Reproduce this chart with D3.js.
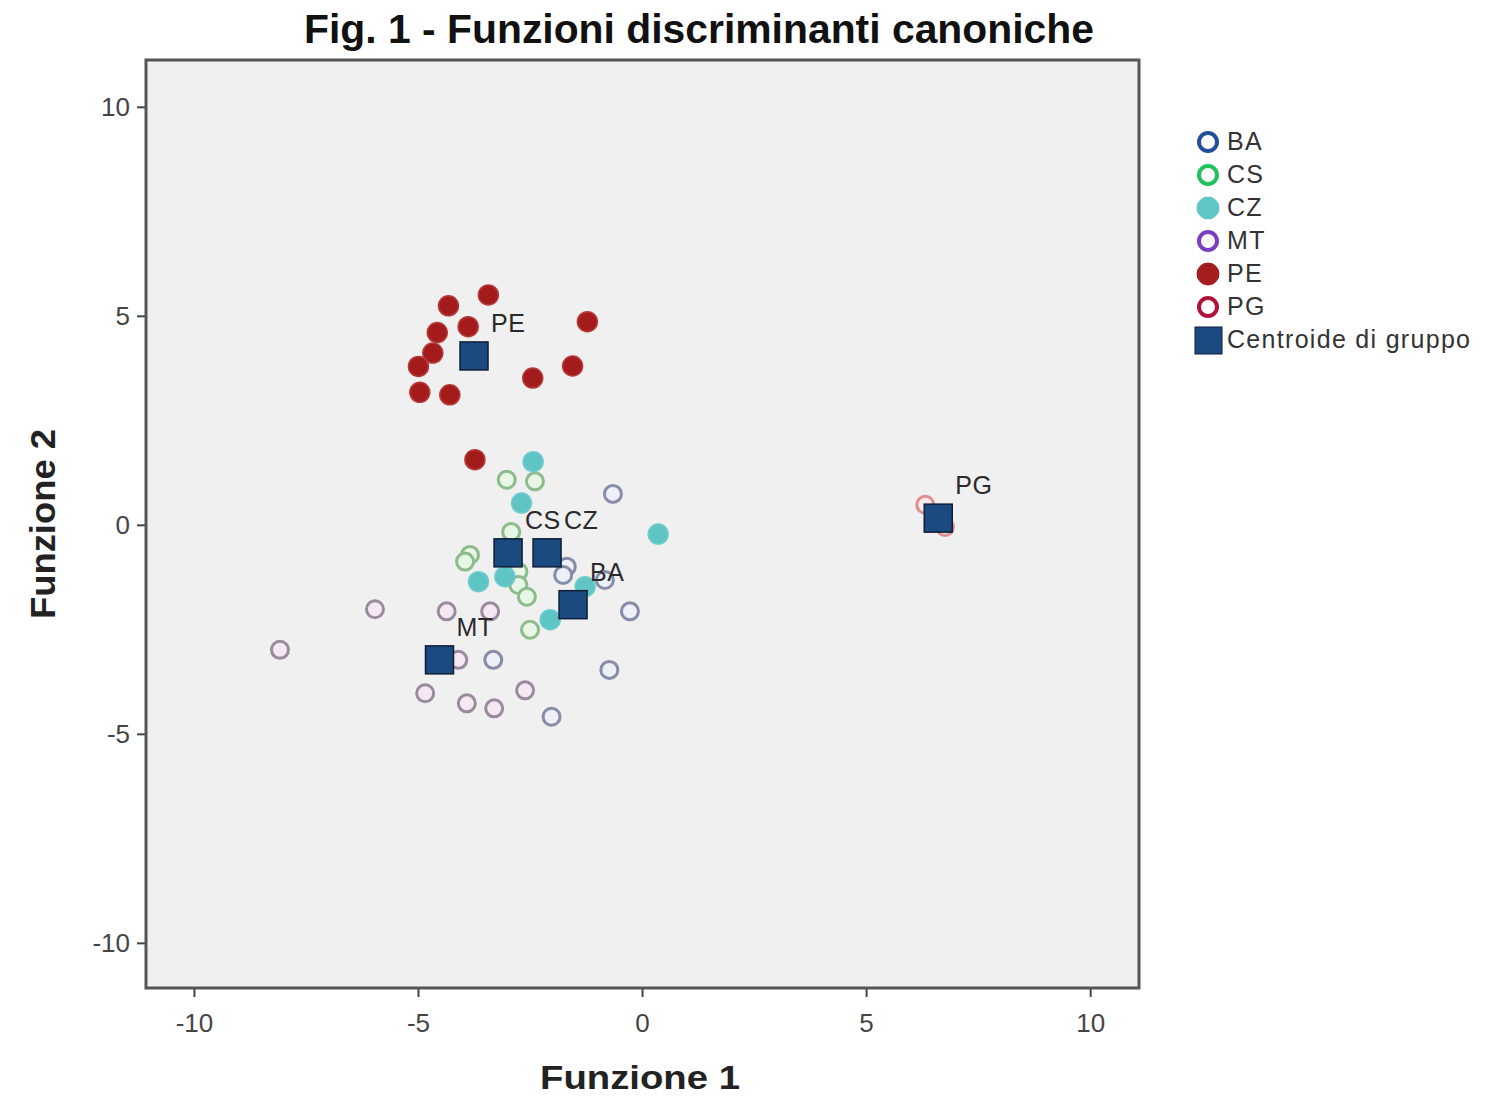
<!DOCTYPE html>
<html>
<head>
<meta charset="utf-8">
<script src="https://cdn.jsdelivr.net/npm/d3@7/dist/d3.min.js"></script>
<style>
  html, body { margin: 0; padding: 0; background: #fff; }
  svg { display: block; font-family: "Liberation Sans", Arial, sans-serif; }
</style>
</head>
<body>
<svg id="chart" width="1504" height="1099"></svg>
<script>
// Canonical discriminant scores (Funzione 1, Funzione 2) for each group
const groupNames = ["BA", "CS", "CZ", "MT", "PE", "PG"];

const baPoints = [
  [-0.65, 0.74], [-1.68, -1.00], [-1.76, -1.20], [-0.83, -1.32],
  [-0.27, -2.07], [-3.32, -3.23], [-0.73, -3.47], [-2.02, -4.59]
];
const csPoints = [
  [-3.02, 1.08], [-2.39, 1.04], [-2.92, -0.17], [-3.84, -0.72], [-3.95, -0.88],
  [-2.76, -1.12], [-2.76, -1.44], [-2.57, -1.72], [-2.50, -2.51]
];
const czPoints = [
  [-2.43, 1.51], [-2.69, 0.52], [0.36, -0.22], [-3.65, -1.36],
  [-3.06, -1.24], [-1.27, -1.48], [-2.05, -2.27]
];
const mtPoints = [
  [-5.96, -2.02], [-4.36, -2.07], [-3.39, -2.07], [-8.08, -2.99], [-4.10, -3.23],
  [-4.84, -4.03], [-2.61, -3.96], [-3.91, -4.27], [-3.30, -4.39]
];
const pePoints = [
  [-3.43, 5.50], [-4.32, 5.24], [-3.88, 4.74], [-1.22, 4.86], [-4.57, 4.60],
  [-4.67, 4.11], [-4.99, 3.79], [-1.55, 3.80], [-2.44, 3.51], [-4.96, 3.17],
  [-4.29, 3.11], [-3.73, 1.56]
];
const pgPoints = [[6.32, 0.48], [6.76, -0.05]];

// Group centroids
const centroidNames = ["PE", "CS", "CZ", "BA", "MT", "PG"];
const centroidX = [-3.75, -2.99, -2.12, -1.54, -4.52, 6.61];
const centroidY = [4.04, -0.67, -0.67, -1.91, -3.23, 0.16];

const xTicks = [-10, -5, 0, 5, 10];
const yTicks = [-10, -5, 0, 5, 10];
const legendLabels = ["BA", "CS", "CZ", "MT", "PE", "PG", "Centroide di gruppo"];

// Marker styles: plot marks are soft, legend swatches are saturated
const plotStyle = {
  BA: { filled: false, stroke: "#878ca8", fill: "#eef0f8" },
  CS: { filled: false, stroke: "#8cbb8c", fill: "#e8f6e6" },
  CZ: { filled: true,  stroke: "#6fcccc", fill: "#5ec4c4" },
  MT: { filled: false, stroke: "#9a8a9e", fill: "#f6e8f3" },
  PE: { filled: true,  stroke: "#b53a3a", fill: "#a31b1b" },
  PG: { filled: false, stroke: "#de8f8f", fill: "#f8eaea" }
};
const legendStyle = {
  BA: { filled: false, color: "#234e9a" },
  CS: { filled: false, color: "#1fc15e" },
  CZ: { filled: true,  color: "#5ec6c6" },
  MT: { filled: false, color: "#7a3fc0" },
  PE: { filled: true,  color: "#a51d1d" },
  PG: { filled: false, color: "#b0123a" }
};
const centroidFill = "#1b4a80";

const svg = d3.select("#chart");

const plot = { left: 146, right: 1139, top: 60, bottom: 988 };
const x = d3.scaleLinear().domain([-11.07, 11.09]).range([plot.left, plot.right]);
const y = d3.scaleLinear().domain([-11.08, 11.12]).range([plot.bottom, plot.top]);

// Title
svg.append("text")
  .attr("x", 699).attr("y", 43)
  .attr("text-anchor", "middle")
  .attr("font-size", 40).attr("font-weight", "bold")
  .attr("fill", "#111")
  .attr("textLength", 790).attr("lengthAdjust", "spacingAndGlyphs")
  .text("Fig. 1 - Funzioni discriminanti canoniche");

// Plot background
svg.append("rect")
  .attr("x", plot.left).attr("y", plot.top)
  .attr("width", plot.right - plot.left).attr("height", plot.bottom - plot.top)
  .attr("fill", "#f0f0f0");

// Axes (plain hyphen for negative labels)
const fmt = d => String(d);
const xAxis = d3.axisBottom(x).tickValues(xTicks).tickSize(9).tickPadding(10).tickFormat(fmt);
const yAxis = d3.axisLeft(y).tickValues(yTicks).tickSize(9).tickPadding(7).tickFormat(fmt);

const gx = svg.append("g").attr("transform", `translate(0,${plot.bottom})`).call(xAxis);
const gy = svg.append("g").attr("transform", `translate(${plot.left},0)`).call(yAxis);
[gx, gy].forEach(g => {
  g.select(".domain").remove();
  g.selectAll(".tick line").attr("stroke", "#444").attr("stroke-width", 2);
  g.selectAll(".tick text").attr("font-size", 26).attr("fill", "#444")
    .attr("font-family", "'Liberation Sans', Arial, sans-serif");
});
gx.selectAll(".tick text").attr("dy", "0.95em");

// Frame
svg.append("rect")
  .attr("x", plot.left).attr("y", plot.top)
  .attr("width", plot.right - plot.left).attr("height", plot.bottom - plot.top)
  .attr("fill", "none").attr("stroke", "#555").attr("stroke-width", 3);

// Axis titles
svg.append("text")
  .attr("x", 640).attr("y", 1089)
  .attr("text-anchor", "middle")
  .attr("font-size", 34).attr("font-weight", "bold").attr("fill", "#222")
  .attr("textLength", 200).attr("lengthAdjust", "spacingAndGlyphs")
  .text("Funzione 1");
svg.append("text")
  .attr("transform", "translate(55,524) rotate(-90)")
  .attr("text-anchor", "middle")
  .attr("font-size", 35).attr("font-weight", "bold").attr("fill", "#222")
  .attr("textLength", 190).attr("lengthAdjust", "spacingAndGlyphs")
  .text("Funzione 2");

// Case points
const groupPoints = { BA: baPoints, CS: csPoints, CZ: czPoints, MT: mtPoints, PE: pePoints, PG: pgPoints };
const marks = svg.append("g");
groupNames.forEach(name => {
  const s = plotStyle[name];
  marks.append("g").selectAll("circle")
    .data(groupPoints[name])
    .join("circle")
    .attr("cx", d => x(d[0]))
    .attr("cy", d => y(d[1]))
    .attr("r", s.filled ? 10 : 8.5)
    .attr("fill", s.fill)
    .attr("stroke", s.stroke)
    .attr("stroke-width", s.filled ? 1.5 : 3);
});

// Centroids
const centroids = centroidNames.map((n, i) => ({ name: n, fx: centroidX[i], fy: centroidY[i] }));
const side = 28;
svg.append("g").selectAll("rect")
  .data(centroids)
  .join("rect")
  .attr("x", d => x(d.fx) - side / 2)
  .attr("y", d => y(d.fy) - side / 2)
  .attr("width", side).attr("height", side)
  .attr("fill", centroidFill)
  .attr("stroke", "#0f1e36").attr("stroke-width", 1.5);

// Centroid labels
svg.append("g").selectAll("text")
  .data(centroids)
  .join("text")
  .attr("x", d => x(d.fx) + 17)
  .attr("y", d => y(d.fy) - 24)
  .attr("font-size", 25).attr("fill", "#2a2a2a")
  .attr("letter-spacing", 0.5)
  .text(d => d.name);

// Legend
const legend = svg.append("g").attr("transform", "translate(1208,142)");
const step = 33; // vertical spacing between entries
legendLabels.forEach((label, i) => {
  const row = legend.append("g").attr("transform", `translate(0,${i * step})`);
  if (i < groupNames.length) {
    const s = legendStyle[groupNames[i]];
    row.append("circle")
      .attr("r", s.filled ? 11 : 9)
      .attr("fill", s.filled ? s.color : "#fff")
      .attr("stroke", s.color)
      .attr("stroke-width", s.filled ? 1 : 4);
  } else {
    row.append("rect")
      .attr("x", -13).attr("y", -13)
      .attr("width", 27).attr("height", 27)
      .attr("fill", centroidFill).attr("stroke", "#0f1e36").attr("stroke-width", 1);
  }
  row.append("text")
    .attr("x", 19).attr("y", 8)
    .attr("font-size", 25).attr("fill", "#333")
    .attr("letter-spacing", 1.3)
    .text(label);
});
</script>
</body>
</html>
